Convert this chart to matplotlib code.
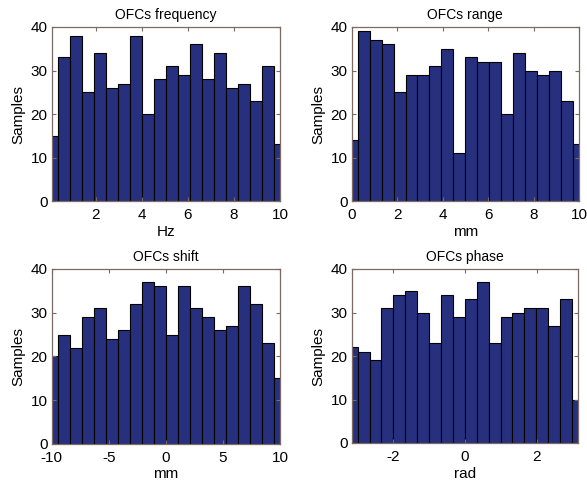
import matplotlib
matplotlib.use("Agg")
import matplotlib.pyplot as plt
import numpy as np

plt.rcParams['font.family'] = ['Liberation Sans', 'DejaVu Sans']
plt.rcParams['axes.unicode_minus'] = False

# Bar heights (20 bins each)
freq_counts = [15, 33, 38, 25, 34, 26, 27, 38, 20, 28, 31, 29, 36, 28, 34, 26, 27, 23, 31, 13]
range_counts = [14, 39, 37, 36, 25, 29, 29, 31, 35, 11, 33, 32, 32, 20, 34, 30, 29, 30, 23, 13]
shift_counts = [20, 25, 22, 29, 31, 24, 26, 32, 37, 36, 25, 36, 31, 29, 26, 27, 36, 32, 23, 15]
phase_counts = [22, 21, 19, 31, 34, 35, 30, 23, 34, 29, 33, 37, 23, 29, 30, 31, 31, 27, 33, 10]

titles = ["OFCs frequency", "OFCs range", "OFCs shift", "OFCs phase"]
xlabels = ["Hz", "mm", "mm", "rad"]
limits = [(0.1, 10), (0, 10), (-10, 10), (-np.pi, np.pi)]
xticks = [[2, 4, 6, 8, 10], [0, 2, 4, 6, 8, 10], [-10, -5, 0, 5, 10], [-2, 0, 2]]
counts = [freq_counts, range_counts, shift_counts, phase_counts]

# axes positions in pixels: left, right, top, bottom
W, H = 587, 482
boxes = [(51.7, 280, 27, 201), (351.7, 579, 27, 201),
         (51.7, 280, 269, 443.7), (351.7, 578, 269, 443)]

fig = plt.figure(figsize=(W / 100, H / 100), dpi=100)
spine_col = "#7d6a64"

for i in range(4):
    l, r, t, b = boxes[i]
    ax = fig.add_axes([l / W, 1 - b / H, (r - l) / W, (b - t) / H])
    lo, hi = limits[i]
    centers = np.linspace(lo, hi, len(counts[i]))
    width = centers[1] - centers[0]
    ax.bar(centers, counts[i], width=width, color="#27307f", edgecolor="black", linewidth=0.8)
    ax.set_xlim(lo, hi)
    ax.set_ylim(0, 40)
    ax.set_xticks(xticks[i])
    ax.set_yticks([0, 10, 20, 30, 40])
    ax.tick_params(direction="in", top=True, right=True, length=3, labelsize=11,
                   color=spine_col)
    ax.tick_params(axis="x", pad=5)
    ax.tick_params(axis="y", pad=3)
    for s in ax.spines.values():
        s.set_color(spine_col)
        s.set_linewidth(0.9)
    ax.set_title(titles[i], fontsize=10, pad=6)
    ax.set_xlabel(xlabels[i], fontsize=11, labelpad=2)
    ax.set_ylabel("Samples", fontsize=11, labelpad=4)

fig.savefig("out.png", dpi=100)
